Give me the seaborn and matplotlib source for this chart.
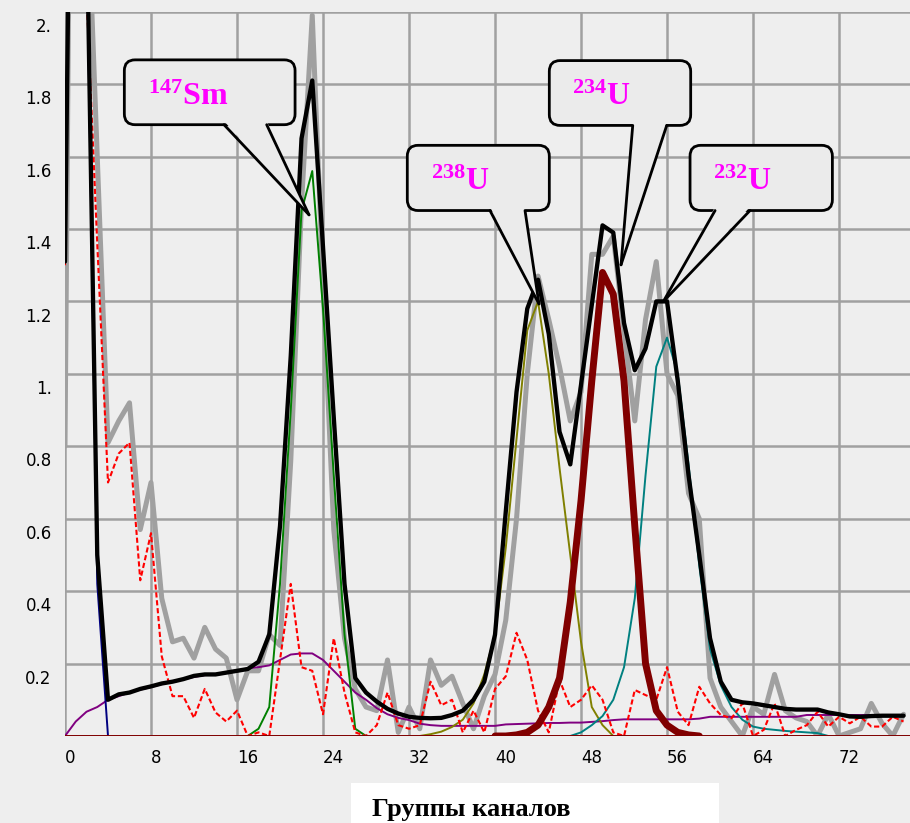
import numpy as np
import pandas as pd
import matplotlib
matplotlib.use('Agg')
import matplotlib.pyplot as plt
import matplotlib.transforms as mtransforms
from matplotlib.patches import FancyBboxPatch, Polygon, Rectangle
import seaborn as sns

# группы каналов 0..78
channels = list(range(79))

# измеренный спектр (серый)
measured = [0.80, 4.50, 2.40, 1.60, 0.81, 0.87, 0.92, 0.57, 0.70, 0.38,
            0.26, 0.27, 0.215, 0.30, 0.24, 0.215, 0.10, 0.18, 0.18, 0.28,
            0.25, 0.76, 1.47, 1.99, 1.25, 0.57, 0.27, 0.13, 0.08, 0.07,
            0.21, 0.01, 0.08, 0.02, 0.21, 0.14, 0.165, 0.09, 0.02, 0.11,
            0.17, 0.32, 0.60, 1.00, 1.27, 1.15, 1.02, 0.87, 0.95, 1.33,
            1.33, 1.38, 1.12, 0.87, 1.15, 1.31, 1.00, 0.94, 0.67, 0.60,
            0.16, 0.08, 0.04, 0.00, 0.08, 0.06, 0.17, 0.07, 0.05, 0.04,
            0.00, 0.06, 0.00, 0.01, 0.02, 0.09, 0.035, 0.00, 0.06]

# суммарная аппроксимация (черный)
fit_total = [1.31, 3.80, 2.30, 0.50, 0.10, 0.115, 0.12, 0.13, 0.137, 0.145,
             0.15, 0.157, 0.166, 0.17, 0.17, 0.175, 0.18, 0.185, 0.205, 0.28,
             0.58, 1.05, 1.65, 1.81, 1.35, 0.88, 0.42, 0.16, 0.12, 0.095,
             0.075, 0.062, 0.053, 0.05, 0.049, 0.05, 0.058, 0.07, 0.10, 0.15,
             0.28, 0.62, 0.95, 1.18, 1.26, 1.11, 0.84, 0.75, 0.97, 1.19,
             1.41, 1.39, 1.14, 1.01, 1.07, 1.20, 1.20, 0.98, 0.72, 0.50,
             0.27, 0.15, 0.10, 0.093, 0.09, 0.085, 0.08, 0.075, 0.073, 0.073,
             0.073, 0.065, 0.06, 0.054, 0.053, 0.055, 0.056, 0.056, 0.056]

# красный пунктир
residual = [1.30, 3.50, 2.05, 1.36, 0.70, 0.78, 0.81, 0.43, 0.56, 0.22,
            0.11, 0.11, 0.05, 0.13, 0.065, 0.04, 0.07, 0.00, 0.01, 0.00,
            0.21, 0.42, 0.19, 0.18, 0.06, 0.27, 0.12, 0.01, 0.00, 0.03,
            0.12, 0.03, 0.02, 0.03, 0.15, 0.085, 0.10, 0.01, 0.07, 0.01,
            0.13, 0.165, 0.285, 0.21, 0.07, 0.01, 0.155, 0.08, 0.10, 0.14,
            0.10, 0.01, 0.00, 0.127, 0.113, 0.10, 0.19, 0.067, 0.03, 0.136,
            0.09, 0.058, 0.049, 0.09, 0.00, 0.017, 0.09, 0.00, 0.017, 0.03,
            0.067, 0.026, 0.053, 0.035, 0.053, 0.026, 0.026, 0.053, 0.04]

# подложка (фиолетовый)
background = [0.00, 0.04, 0.067, 0.08, 0.10, 0.11, 0.12, 0.128, 0.135, 0.143,
              0.15, 0.156, 0.163, 0.168, 0.17, 0.174, 0.18, 0.187, 0.19, 0.195,
              0.21, 0.225, 0.228, 0.228, 0.21, 0.18, 0.15, 0.12, 0.10, 0.077,
              0.06, 0.05, 0.044, 0.034, 0.03, 0.028, 0.028, 0.028, 0.028, 0.028,
              0.028, 0.032, 0.033, 0.034, 0.035, 0.036, 0.036, 0.037, 0.037, 0.039,
              0.041, 0.044, 0.046, 0.046, 0.046, 0.046, 0.046, 0.046, 0.046, 0.048,
              0.053, 0.053, 0.053, 0.053, 0.053, 0.053, 0.053, 0.053, 0.053, 0.058,
              0.058, 0.058, 0.058, 0.058, 0.058, 0.058, 0.058, 0.058, 0.058]

# отдельные пики: первая группа и значения
peak0_start = 0
peak0 = [1.31, 3.76, 2.23, 0.42, 0.00]
sm147_start = 17
sm147 = [0.00, 0.02, 0.08, 0.42, 0.90, 1.45, 1.56, 1.18, 0.72, 0.28, 0.02, 0.00]
u238_start = 33
u238 = [0.00, 0.005, 0.012, 0.025, 0.045, 0.09, 0.17, 0.28, 0.52, 0.82,
        1.12, 1.20, 1.00, 0.74, 0.50, 0.26, 0.08, 0.03, 0.00]
u234_start = 40
u234 = [0.00, 0.00, 0.003, 0.01, 0.03, 0.08, 0.16, 0.37, 0.65, 0.98,
        1.28, 1.22, 0.98, 0.58, 0.20, 0.07, 0.03, 0.01, 0.003, 0.00]
u232_start = 47
u232 = [0.00, 0.01, 0.03, 0.055, 0.10, 0.19, 0.38, 0.72, 1.02, 1.10,
        1.00, 0.75, 0.47, 0.24, 0.14, 0.08, 0.045, 0.026, 0.02, 0.017,
        0.014, 0.012, 0.01, 0.008, 0.00]

xticks = list(range(0, 73, 8))
yticks = [0.0, 0.2, 0.4, 0.6, 0.8, 1.0, 1.2, 1.4, 1.6, 1.8, 2.0]
ytick_labels = ['', '0.2', '0.4', '0.6', '0.8', '1.', '1.2', '1.4', '1.6', '1.8', '2.']

# оформление
sns.set_theme(style='whitegrid', rc={'axes.facecolor': '#eeeeee',
                                     'figure.facecolor': '#eeeeee',
                                     'grid.color': '#a0a0a0',
                                     'grid.linewidth': 1.8})
plt.rcParams['font.family'] = ['DejaVu Sans']
plt.rcParams['mathtext.fontset'] = 'custom'
plt.rcParams['mathtext.rm'] = 'Liberation Serif'
plt.rcParams['mathtext.it'] = 'Liberation Serif:italic'
plt.rcParams['mathtext.bf'] = 'Liberation Serif:bold'

fig, ax = plt.subplots(figsize=(9.1, 8.23), dpi=100)
fig.subplots_adjust(left=65/910, right=1.0, bottom=1-736/823, top=1-11.7/823)

def peak_x(start, vals):
    return list(range(start, start + len(vals)))

sns.lineplot(x=channels, y=measured, color='#a0a0a0', lw=3.6, ax=ax, zorder=3)
sns.lineplot(x=channels, y=background, color='#800080', lw=1.4, ax=ax, zorder=4)
sns.lineplot(x=peak_x(peak0_start, peak0), y=peak0, color='#000080', lw=1.4, ax=ax, zorder=4)
sns.lineplot(x=peak_x(sm147_start, sm147), y=sm147, color='#008000', lw=1.4, ax=ax, zorder=4)
sns.lineplot(x=peak_x(u238_start, u238), y=u238, color='#808000', lw=1.4, ax=ax, zorder=4)
sns.lineplot(x=peak_x(u232_start, u232), y=u232, color='#008080', lw=1.4, ax=ax, zorder=4)
sns.lineplot(x=channels, y=residual, color='#ff0000', lw=1.5,
             linestyle=(0, (2.5, 1.3)), ax=ax, zorder=5)
sns.lineplot(x=channels, y=fit_total, color='black', lw=3.1, ax=ax, zorder=6)
sns.lineplot(x=peak_x(u234_start, u234), y=u234, color='#800000', lw=5, ax=ax, zorder=7)
ax.axhline(0, color='#800000', lw=1.4, zorder=8)

ax.set_xlim(0, 78.6)
ax.set_ylim(0, 2.0)
ax.set_xticks(xticks)
ax.set_yticks(yticks)
ax.set_yticklabels(ytick_labels)
ax.grid(True, color='#a0a0a0', lw=1.8)
ax.set_axisbelow(True)
for s in ax.spines.values():
    s.set_visible(False)
ax.tick_params(axis='x', length=0, labelsize=12, pad=9.7, colors='black')
ax.tick_params(axis='y', length=0, labelsize=12, pad=9.6, colors='black')
for lab in ax.get_xticklabels():
    lab.set_ha('left')
shift = mtransforms.ScaledTranslation(0, -0.132, fig.dpi_scale_trans)
for lab in ax.get_yticklabels():
    lab.set_transform(lab.get_transform() + shift)

# подпись оси в белой плашке
fig.add_artist(Rectangle((351/910, 0), (719-351)/910, (823-783)/823,
                         transform=fig.transFigure, fc='white', ec='none', zorder=-1))
ax.set_xlabel('Группы каналов', fontfamily='Liberation Serif', fontweight='bold',
              fontsize=19, color='black')
ax.xaxis.set_label_coords((371.7-65)/845, (736-816)/724.3)
ax.xaxis.label.set_ha('left')
ax.xaxis.label.set_va('baseline')
ax.set_ylabel('')

# выноски
asp = (2.0/724.3) / (78.6/845)

def callout(text, x0, x1, y0, y1, b0, b1, tip, txy):
    ax.add_patch(FancyBboxPatch((x0, y0), x1-x0, y1-y0,
                                boxstyle='round,pad=0,rounding_size=1.0',
                                mutation_aspect=asp, fc='#ebebeb', ec='black',
                                lw=2, zorder=10, clip_on=False))
    ax.add_patch(Polygon([(b0, y0+0.01), (b1, y0+0.01), tip], closed=True,
                         fc='#ebebeb', ec='none', zorder=11, clip_on=False))
    ax.plot([b0, tip[0]], [y0, tip[1]], color='black', lw=2, zorder=12)
    ax.plot([b1, tip[0]], [y0, tip[1]], color='black', lw=2, zorder=12)
    ax.text(txy[0], txy[1], text, color='#ff00ff', fontsize=23,
            ha='left', va='baseline', zorder=13)

callout(r'$\mathbf{{}^{147}Sm}$', 5.52, 21.40, 1.688, 1.867, 14.79, 18.76, (22.70, 1.439), (7.72, 1.743))
callout(r'$\mathbf{{}^{238}U}$', 31.84, 45.05, 1.451, 1.631, 39.53, 42.79, (44.09, 1.193), (34.02, 1.508))
callout(r'$\mathbf{{}^{234}U}$', 45.05, 58.20, 1.686, 1.865, 52.81, 55.97, (51.72, 1.301), (47.13, 1.743))
callout(r'$\mathbf{{}^{232}U}$', 58.14, 71.38, 1.451, 1.631, 60.47, 63.72, (55.66, 1.200), (60.31, 1.508))

fig.savefig('out.png', dpi=100)
